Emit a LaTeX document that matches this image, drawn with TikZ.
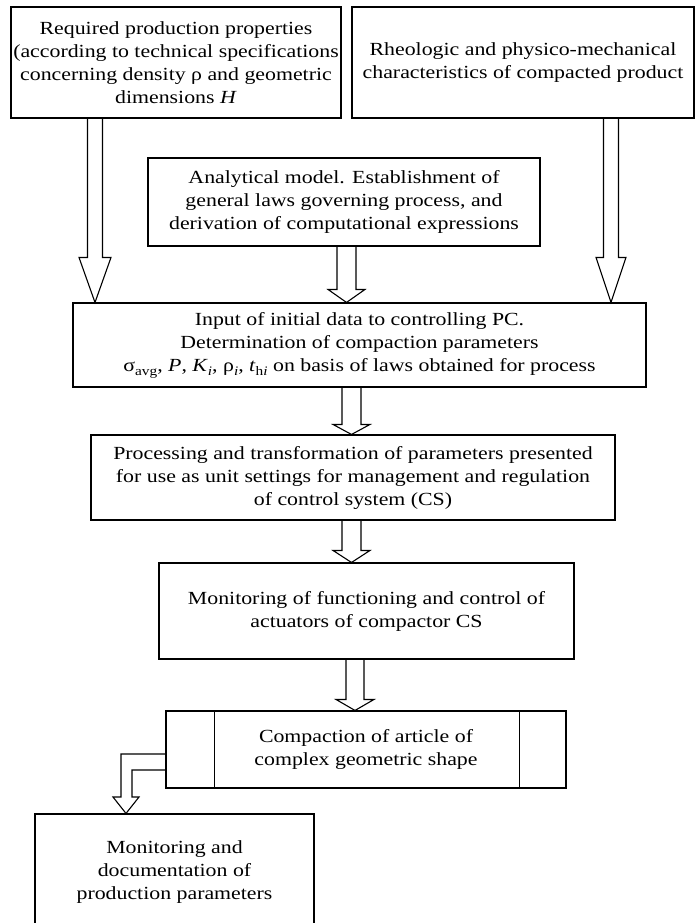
\documentclass[tikz,border=0pt]{standalone}
\usepackage{fontspec}
\setmainfont{Liberation Serif}[FakeStretch=1.18]
\usetikzlibrary{calc}
\newcommand\lowsub[1]{\raisebox{-0.45ex}{\fontsize{13}{13}\selectfont #1}}
\newcommand\hollowdown[5]{%
  \draw[arr] let \p1=(#1), \p2=(#2) in
    (\x1-#3pt,\y1) -- (\x1-#3pt,\y2+#5pt) -- (\x1-#4pt,\y2+#5pt) -- (\x2,\y2)
    -- (\x1+#4pt,\y2+#5pt) -- (\x1+#3pt,\y2+#5pt) -- (\x1+#3pt,\y1);}
\begin{document}
\begin{tikzpicture}[x=1pt,y=1pt,
  box/.style={draw, line width=1.1pt, rectangle, inner sep=0pt, align=center,
    font=\fontsize{18.5}{23}\selectfont},
  arr/.style={draw, line width=1.1pt, line join=miter}]
\useasboundingbox (0,0) rectangle (695,-923);
\node[box, minimum width=330, minimum height=111] (req) at (176,-62.5)
  {Required production properties\\(according to technical specifications\\concerning density ρ and geometric\\dimensions \textit{H}};
\node[box, minimum width=342, minimum height=111] (rheo) at (523,-62.5)
  {Rheologic and physico-mechanical\\characteristics of compacted product};
\node[box, minimum width=392, minimum height=88] (ana) at (344,-202)
  {Analytical model. Establishment of\\general laws governing process, and\\derivation of computational expressions};
\node[box, minimum width=573, minimum height=84] (inp) at (359.5,-345)
  {Input of initial data to controlling PC.\\Determination of compaction parameters\\σ\lowsub{avg}, \textit{P}, \textit{K}\lowsub{\textit{i}}, ρ\lowsub{\textit{i}}, \textit{t}\lowsub{h\textit{i}} on basis of laws obtained for process};
\node[box, minimum width=524, minimum height=85] (proc) at (353,-477.5)
  {Processing and transformation of parameters presented\\for use as unit settings for management and regulation\\of control system (CS)};
\node[box, minimum width=415, minimum height=96] (mon) at (366.5,-611)
  {Monitoring of functioning and control of\\actuators of compactor CS};
\node[box, minimum width=400, minimum height=77] (comp) at (366,-749.5)
  {Compaction of article of\\complex geometric shape};
\draw[line width=1.1pt] ([xshift=49pt]comp.north west) -- ([xshift=49pt]comp.south west);
\draw[line width=1.1pt] ([xshift=-47pt]comp.north east) -- ([xshift=-47pt]comp.south east);
\node[box, minimum width=279, minimum height=116] (doc) at (174.5,-872)
  {Monitoring and\\documentation of\\production parameters};
\coordinate (xL) at (95,0);
\coordinate (xC) at (346.5,0);
\coordinate (xR) at (611,0);
\coordinate (xM) at (351.5,0);
\coordinate (xN) at (355,0);
\hollowdown{xL |- req.south}{xL |- inp.north}{7.5}{16}{45}
\hollowdown{xR |- rheo.south}{xR |- inp.north}{7.5}{15}{45}
\hollowdown{xC |- ana.south}{xC |- inp.north}{9.5}{18.5}{13}
\hollowdown{xM |- inp.south}{xM |- proc.north}{9.5}{18.5}{10}
\hollowdown{xM |- proc.south}{xM |- mon.north}{9.5}{18.5}{12}
\hollowdown{xN |- mon.south}{xN |- comp.north}{9}{19}{11}
\draw[arr] let \p1=(comp.west), \p2=(doc.north) in
  (\x1,-754pt) -- (121pt,-754pt) -- (121pt,-797pt) -- (113pt,-797pt) -- (126pt,\y2)
  -- (139pt,-797pt) -- (132pt,-797pt) -- (132pt,-770pt) -- (\x1,-770pt);
\end{tikzpicture}
\end{document}
